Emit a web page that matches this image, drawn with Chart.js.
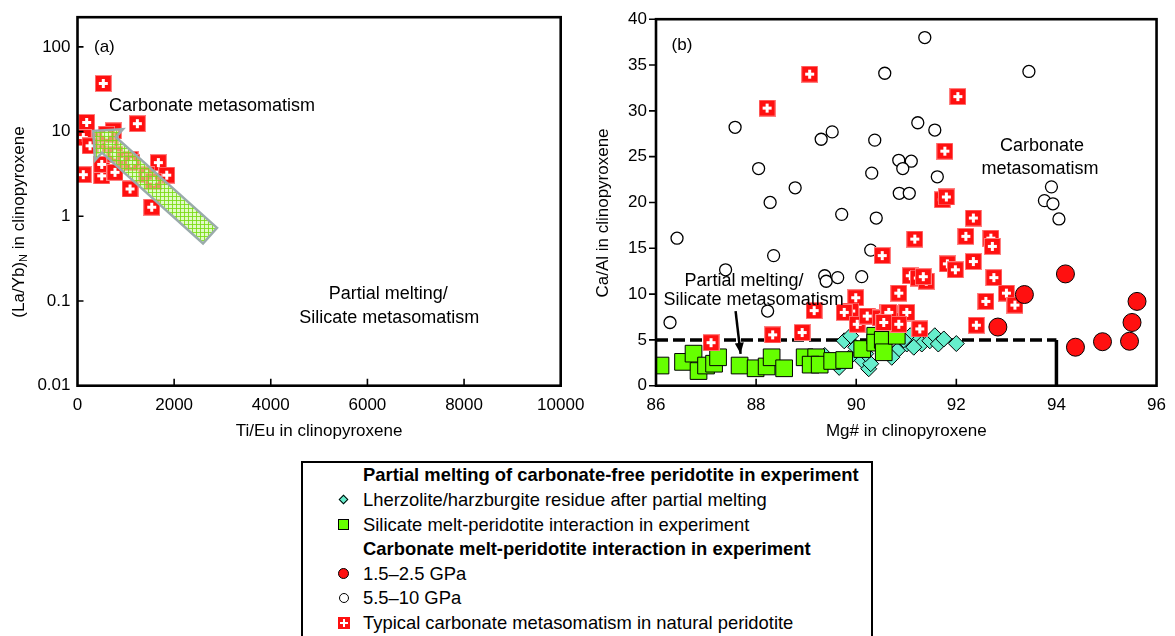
<!DOCTYPE html>
<html>
<head>
<meta charset="utf-8">
<script src="https://cdn.jsdelivr.net/npm/chart.js"></script>
<style>
  body { margin: 0; background: #fff; }
  #wrap { position: relative; width: 1175px; height: 636px; overflow: hidden; font-family: "Liberation Sans", Arial, Helvetica, sans-serif; }
  #chartA { position: absolute; left: 0; top: 0; }
  #chartB { position: absolute; left: 580px; top: 0; }
  #legend { position: absolute; left: 301px; top: 461px; width: 572px; height: 200px; border: 2px solid #000; box-sizing: border-box; }
  .row { position: absolute; left: 0; height: 24px; line-height: 24px; font-size: 18.4px; white-space: nowrap; }
  .row span.txt { position: absolute; left: 60px; top: 0; }
  .row.head span.txt { font-weight: bold; }
  .mk { position: absolute; box-sizing: border-box; }
  .mk.dia { left: 37px; top: 8px; width: 7px; height: 7px; background: #66eecc; border: 1px solid #000; transform: rotate(45deg); }
  .mk.sq { left: 35px; top: 6px; width: 11px; height: 11px; background: #66ff00; border: 1px solid #000; }
  .mk.rc { left: 35px; top: 6px; width: 11px; height: 11px; background: #ff1010; border: 1px solid #000; border-radius: 50%; }
  .mk.oc { left: 35.5px; top: 6.5px; width: 10px; height: 10px; background: #fff; border: 1.5px solid #000; border-radius: 50%; }
  .mk.cr { left: 34.5px; top: 5.5px; width: 12px; height: 12px;
    background: linear-gradient(#fff, #fff) center / 8px 2px no-repeat, linear-gradient(#fff, #fff) center / 2px 8px no-repeat, #ff1010; }
</style>
</head>
<body>
<div id="wrap">
  <canvas id="chartA" width="600" height="460"></canvas>
  <canvas id="chartB" width="595" height="460"></canvas>
  <div id="legend">
    <div class="row head" style="top:0px"><span class="txt">Partial melting of carbonate-free peridotite in experiment</span></div>
    <div class="row" style="top:25px"><span class="mk dia"></span><span class="txt">Lherzolite/harzburgite residue after partial melting</span></div>
    <div class="row" style="top:49.5px"><span class="mk sq"></span><span class="txt">Silicate melt-peridotite interaction in experiment</span></div>
    <div class="row head" style="top:74px"><span class="txt">Carbonate melt-peridotite interaction in experiment</span></div>
    <div class="row" style="top:98.5px"><span class="mk rc"></span><span class="txt">1.5–2.5 GPa</span></div>
    <div class="row" style="top:123px"><span class="mk oc"></span><span class="txt">5.5–10 GPa</span></div>
    <div class="row" style="top:148px"><span class="mk cr"></span><span class="txt">Typical carbonate metasomatism in natural peridotite</span></div>
  </div>
</div>
<script>
const FONT = '"Liberation Sans", Arial, Helvetica, sans-serif';

// ---- panel (a): Ti/Eu vs (La/Yb)N ----
const tiEuTicks = [0, 2000, 4000, 6000, 8000, 10000];
const laYbTicks = [0.01, 0.1, 1, 10, 100];
const crossTiEu = [534, 1238, 52, 17, 190, 120, 741, 120, 501, 501, 1087, 1087, 1673, 1846, 1536,
                   466, 673, 776, 983, 1122, 1432, 1569, 604, 259, 776];
const crossLaYb = [37.0, 12.4, 12.2, 11.1, 12.8, 8.5, 10.2, 3.1, 3.0, 4.1, 4.7, 2.1, 4.3, 3.06, 1.28,
                   7.8, 7.1, 5.4, 4.7, 4.3, 3.1, 2.6, 9.3, 6.8, 3.3];
const trendTip = [327, 10.2];
const trendTail = [2743, 0.59];

// ---- panel (b): Mg# vs Ca/Al ----
const mgTicks = [86, 88, 90, 92, 94, 96];
const caAlTicks = [0, 5, 10, 15, 20, 25, 30, 35, 40];

const lowPMg = [94.18, 93.36, 92.83, 94.38, 94.92, 95.46, 95.51, 95.61];
const lowPCaAl = [12.2, 9.95, 6.4, 4.2, 4.8, 4.85, 6.9, 9.2];

const highPMg = [91.37, 90.57, 93.45, 87.58, 89.30, 89.52, 90.37, 91.23, 91.57, 88.05, 90.85, 91.10,
                 90.93, 90.31, 91.62, 88.78, 88.28, 90.86, 91.06, 89.71, 90.40, 93.90, 93.76, 93.93,
                 94.05, 86.42, 88.35, 87.39, 89.37, 89.40, 89.63, 90.11, 90.29, 86.28, 88.23];
const highPCaAl = [38.0, 34.1, 34.3, 28.2, 26.9, 27.7, 26.8, 28.7, 27.9, 23.7, 24.6, 24.5,
                   23.7, 23.2, 22.8, 21.6, 20.0, 21.0, 21.0, 18.7, 18.3, 21.7, 20.2, 19.85,
                   18.2, 16.1, 14.2, 12.65, 12.0, 11.4, 11.8, 11.9, 14.8, 6.9, 8.15];

const naturalMg = [89.07, 88.22, 92.03, 91.77, 91.72, 91.80, 92.34, 92.19, 92.69, 92.72, 91.17, 90.52,
                   91.82, 91.98, 92.34, 91.08, 91.24, 91.40, 91.34, 92.75, 93.00, 93.17, 92.59, 90.85,
                   90.62, 90.98, 90.81, 90.68, 91.27, 92.40, 89.99, 89.89, 89.76, 90.02, 90.22, 90.48,
                   90.65, 91.01, 90.85, 90.55, 89.16, 88.33, 88.92, 87.10];
const naturalCaAl = [34.0, 30.3, 31.55, 25.6, 20.3, 20.6, 18.3, 16.3, 16.1, 15.2, 16.0, 14.2,
                     13.3, 12.65, 13.55, 12.0, 11.75, 11.4, 11.9, 11.8, 10.1, 8.8, 9.2, 10.1,
                     8.0, 7.9, 7.1, 7.1, 6.2, 6.6, 9.6, 8.15, 8.0, 6.7, 7.6, 7.4,
                     8.0, 8.0, 6.7, 6.9, 8.2, 5.55, 5.8, 4.7];

const silicateMg = [86.09, 86.54, 86.75, 86.85, 87.00, 87.16, 87.24, 87.67, 87.99, 88.21, 88.31, 88.56,
                    88.97, 89.20, 89.09, 89.27, 89.52, 89.76, 90.12, 90.38, 90.38, 90.53, 90.55, 90.81];
const silicateCaAl = [2.2, 2.6, 3.5, 1.6, 2.2, 2.4, 3.1, 2.2, 1.9, 2.1, 3.1, 1.9,
                      3.1, 3.1, 2.3, 2.3, 2.7, 2.8, 4.0, 5.45, 4.7, 5.0, 3.65, 5.45];

const residueMg = [89.37, 89.66, 89.76, 89.89, 89.99, 90.12, 90.25, 90.29, 90.19, 90.75, 90.85, 91.01,
                   91.08, 91.24, 91.31, 91.47, 91.57, 91.64, 92.00, 90.71, 90.95, 91.15, 91.75, 90.45, 89.85];
const residueCaAl = [3.3, 2.0, 4.9, 5.45, 4.2, 2.75, 1.85, 2.4, 3.5, 3.5, 4.0, 4.55,
                     5.45, 4.9, 4.55, 4.9, 5.45, 4.55, 4.6, 3.1, 5.0, 4.2, 5.1, 4.4, 3.0];

const limitMg = [86, 94];
const limitCaAl = [5, 5];
const splitMg = [94, 94];
const splitCaAl = [0, 5];
const pointerMg = [87.59, 87.69];
const pointerCaAl = [8.15, 3.48];

const pts = (xs, ys) => xs.map((v, i) => ({ x: v, y: ys[i] }));

function crossImage(s) {
  const c = document.createElement('canvas');
  c.width = c.height = s;
  const g = c.getContext('2d');
  g.fillStyle = '#ff8080';
  g.fillRect(0, 0, s, s);
  g.fillStyle = '#ff1010';
  g.fillRect(1, 1, s - 2, s - 2);
  g.fillStyle = '#fff';
  g.fillRect(4, 7, s - 8, 3);
  g.fillRect(7, 4, 3, s - 8);
  return c;
}
const crossMark = crossImage(17);

function hatch() {
  const c = document.createElement('canvas');
  c.width = c.height = 4;
  const g = c.getContext('2d');
  g.fillStyle = 'rgba(205,245,160,0.6)';
  g.fillRect(0, 0, 4, 4);
  g.fillStyle = 'rgba(120,220,20,0.85)';
  g.fillRect(0, 0, 4, 1);
  g.fillRect(0, 0, 1, 4);
  return c;
}

// frame, inward/outward ticks, notes, axis titles and arrows
function decor(cfg) {
  return {
    id: 'decor',
    afterDatasetsDraw(chart) {
      const { ctx, chartArea: a, scales: { x, y } } = chart;
      ctx.save();

      if (cfg.bigArrow) {
        const tx = x.getPixelForValue(cfg.bigArrow.tip[0]), ty = y.getPixelForValue(cfg.bigArrow.tip[1]);
        const sx = x.getPixelForValue(cfg.bigArrow.tail[0]), sy = y.getPixelForValue(cfg.bigArrow.tail[1]);
        const len = Math.hypot(tx - sx, ty - sy);
        const ux = (tx - sx) / len, uy = (ty - sy) / len;
        const nx = -uy, ny = ux;
        const hw = 10.5, hh = 21, hl = 21;
        const mx = tx - ux * hl, my = ty - uy * hl;
        ctx.beginPath();
        ctx.moveTo(sx + nx * hw, sy + ny * hw);
        ctx.lineTo(mx + nx * hw, my + ny * hw);
        ctx.lineTo(mx + nx * hh, my + ny * hh);
        ctx.lineTo(tx, ty);
        ctx.lineTo(mx - nx * hh, my - ny * hh);
        ctx.lineTo(mx - nx * hw, my - ny * hw);
        ctx.lineTo(sx - nx * hw, sy - ny * hw);
        ctx.closePath();
        ctx.fillStyle = ctx.createPattern(hatch(), 'repeat');
        ctx.fill();
        ctx.strokeStyle = '#9aabab';
        ctx.lineWidth = 2.5;
        ctx.lineJoin = 'miter';
        ctx.stroke();
      }

      if (cfg.pointer !== undefined) {
        const el = chart.getDatasetMeta(cfg.pointer).data;
        const p0 = el[0], p1 = el[el.length - 1];
        const len = Math.hypot(p1.x - p0.x, p1.y - p0.y);
        const ux = (p1.x - p0.x) / len, uy = (p1.y - p0.y) / len;
        const bx = p1.x - ux * 11, by = p1.y - uy * 11;
        ctx.beginPath();
        ctx.moveTo(p1.x, p1.y);
        ctx.lineTo(bx - uy * 4.5, by + ux * 4.5);
        ctx.lineTo(bx + uy * 4.5, by - ux * 4.5);
        ctx.closePath();
        ctx.fillStyle = '#000';
        ctx.fill();
      }

      ctx.strokeStyle = '#000';
      ctx.lineWidth = 1.6;
      ctx.beginPath();
      x.ticks.forEach(t => {
        const px = x.getPixelForValue(t.value);
        if (px <= a.left + 1 || px >= a.right - 1) return;
        ctx.moveTo(px, a.bottom);
        ctx.lineTo(px, a.bottom - cfg.xTick);
      });
      y.ticks.forEach(t => {
        const py = y.getPixelForValue(t.value);
        if (cfg.yOut) {
          ctx.moveTo(a.left - cfg.yTick, py);
          ctx.lineTo(a.left, py);
        } else {
          if (py >= a.bottom - 1 || py <= a.top + 1) return;
          ctx.moveTo(a.left, py);
          ctx.lineTo(a.left + cfg.yTick, py);
        }
      });
      ctx.stroke();

      ctx.lineWidth = 2.6;
      ctx.strokeRect(a.left, a.top, a.right - a.left, a.bottom - a.top);

      ctx.fillStyle = '#000';
      ctx.textBaseline = 'middle';
      cfg.notes.forEach(n => {
        ctx.font = n.size + 'px ' + FONT;
        ctx.textAlign = n.align;
        ctx.fillText(n.t, x.getPixelForValue(n.x), y.getPixelForValue(n.y));
      });

      ctx.font = '17px ' + FONT;
      ctx.textAlign = 'center';
      ctx.fillText(cfg.xTitle, (a.left + a.right) / 2, 431);

      ctx.translate(cfg.yTitleX, cfg.yTitleY);
      ctx.rotate(-Math.PI / 2);
      const parts = cfg.yTitle;
      const widths = parts.map(p => { ctx.font = p.size + 'px ' + FONT; return ctx.measureText(p.t).width; });
      let cx = -widths.reduce((s, w) => s + w, 0) / 2;
      ctx.textAlign = 'left';
      parts.forEach((p, i) => {
        ctx.font = p.size + 'px ' + FONT;
        ctx.fillText(p.t, cx, p.dy || 0);
        cx += widths[i];
      });
      ctx.restore();
    }
  };
}

const tickFont = { family: FONT, size: 17 };

new Chart(document.getElementById('chartA'), {
  type: 'scatter',
  data: {
    datasets: [{
      data: pts(crossTiEu, crossLaYb),
      pointStyle: crossMark,
      pointRadius: 8
    }]
  },
  options: {
    responsive: false,
    animation: false,
    events: [],
    layout: { padding: { left: 0, top: 16, right: 39.3, bottom: 0 } },
    plugins: { legend: { display: false }, tooltip: { enabled: false } },
    scales: {
      x: {
        type: 'linear', min: 0, max: 10000,
        afterBuildTicks: s => { s.ticks = tiEuTicks.map(v => ({ value: v })); },
        afterFit: s => { s.height = 74.3; },
        grid: { display: false, drawTicks: false },
        border: { display: false },
        ticks: { color: '#000', font: tickFont, padding: 9, maxRotation: 0, callback: v => String(v) }
      },
      y: {
        type: 'logarithmic', min: 0.01, max: 224,
        afterBuildTicks: s => { s.ticks = laYbTicks.map(v => ({ value: v })); },
        afterFit: s => { s.width = 77.5; },
        grid: { display: false, drawTicks: false },
        border: { display: false },
        ticks: { color: '#000', font: tickFont, padding: 7, callback: v => String(v) }
      }
    }
  },
  plugins: [decor({
    xTick: 7, yTick: 6, yOut: false,
    bigArrow: { tip: trendTip, tail: trendTail },
    notes: [
      { t: '(a)', x: 341, y: 100, align: 'left', size: 17 },
      { t: 'Carbonate metasomatism', x: 652, y: 20.2, align: 'left', size: 18 },
      { t: 'Partial melting/', x: 6430, y: 0.121, align: 'center', size: 18 },
      { t: 'Silicate metasomatism', x: 6450, y: 0.063, align: 'center', size: 18 }
    ],
    xTitle: 'Ti/Eu in clinopyroxene',
    yTitleX: 19, yTitleY: 222,
    yTitle: [
      { t: '(La/Yb)', size: 17 },
      { t: 'N', size: 11, dy: 5 },
      { t: ' in clinopyroxene', size: 17 }
    ]
  })]
});

new Chart(document.getElementById('chartB'), {
  type: 'scatter',
  data: {
    datasets: [
      { data: pts(lowPMg, lowPCaAl), pointStyle: 'circle', pointRadius: 9,
        backgroundColor: '#ff1010', borderColor: '#000', borderWidth: 1 },
      { data: pts(naturalMg, naturalCaAl), pointStyle: crossMark, pointRadius: 8 },
      { data: pts(silicateMg, silicateCaAl), pointStyle: 'rect', pointRadius: 11.8,
        backgroundColor: '#66ff00', borderColor: '#000', borderWidth: 1 },
      { data: pts(residueMg, residueCaAl), pointStyle: 'rectRot', pointRadius: 8,
        backgroundColor: '#66eecc', borderColor: '#000', borderWidth: 1 },
      { data: pts(highPMg, highPCaAl), pointStyle: 'circle', pointRadius: 6,
        backgroundColor: '#fff', borderColor: '#000', borderWidth: 1.3 },
      { type: 'line', data: pts(pointerMg, pointerCaAl), showLine: true, pointRadius: 0,
        borderColor: '#000', borderWidth: 2.5 },
      { type: 'line', data: pts(limitMg, limitCaAl), showLine: true, pointRadius: 0,
        borderColor: '#000', borderWidth: 3.5, borderDash: [12, 5] },
      { type: 'line', data: pts(splitMg, splitCaAl), showLine: true, pointRadius: 0,
        borderColor: '#000', borderWidth: 3.5 }
    ]
  },
  options: {
    responsive: false,
    animation: false,
    events: [],
    layout: { padding: { left: 0, top: 15, right: 12, bottom: 0 } },
    plugins: { legend: { display: false }, tooltip: { enabled: false } },
    scales: {
      x: {
        type: 'linear', min: 86, max: 96,
        afterBuildTicks: s => { s.ticks = mgTicks.map(v => ({ value: v })); },
        afterFit: s => { s.height = 74.3; },
        grid: { display: false, drawTicks: false },
        border: { display: false },
        ticks: { color: '#000', font: tickFont, padding: 9, maxRotation: 0 }
      },
      y: {
        type: 'linear', min: 0, max: 40,
        afterBuildTicks: s => { s.ticks = caAlTicks.map(v => ({ value: v })); },
        afterFit: s => { s.width = 76; },
        grid: { display: false, drawTicks: false },
        border: { display: false },
        ticks: { color: '#000', font: tickFont, padding: 9 }
      }
    }
  },
  plugins: [decor({
    xTick: 7, yTick: 7, yOut: true,
    pointer: 5,
    notes: [
      { t: '(b)', x: 86.31, y: 37.2, align: 'left', size: 17 },
      { t: 'Carbonate', x: 93.71, y: 26.2, align: 'center', size: 18 },
      { t: 'metasomatism', x: 93.67, y: 23.6, align: 'center', size: 18 },
      { t: 'Partial melting/', x: 87.76, y: 11.4, align: 'center', size: 18 },
      { t: 'Silicate metasomatism', x: 87.95, y: 9.35, align: 'center', size: 18 }
    ],
    xTitle: 'Mg# in clinopyroxene',
    yTitleX: 23, yTitleY: 213,
    yTitle: [{ t: 'Ca/Al in clinopyroxene', size: 17 }]
  })]
});
</script>
</body>
</html>
